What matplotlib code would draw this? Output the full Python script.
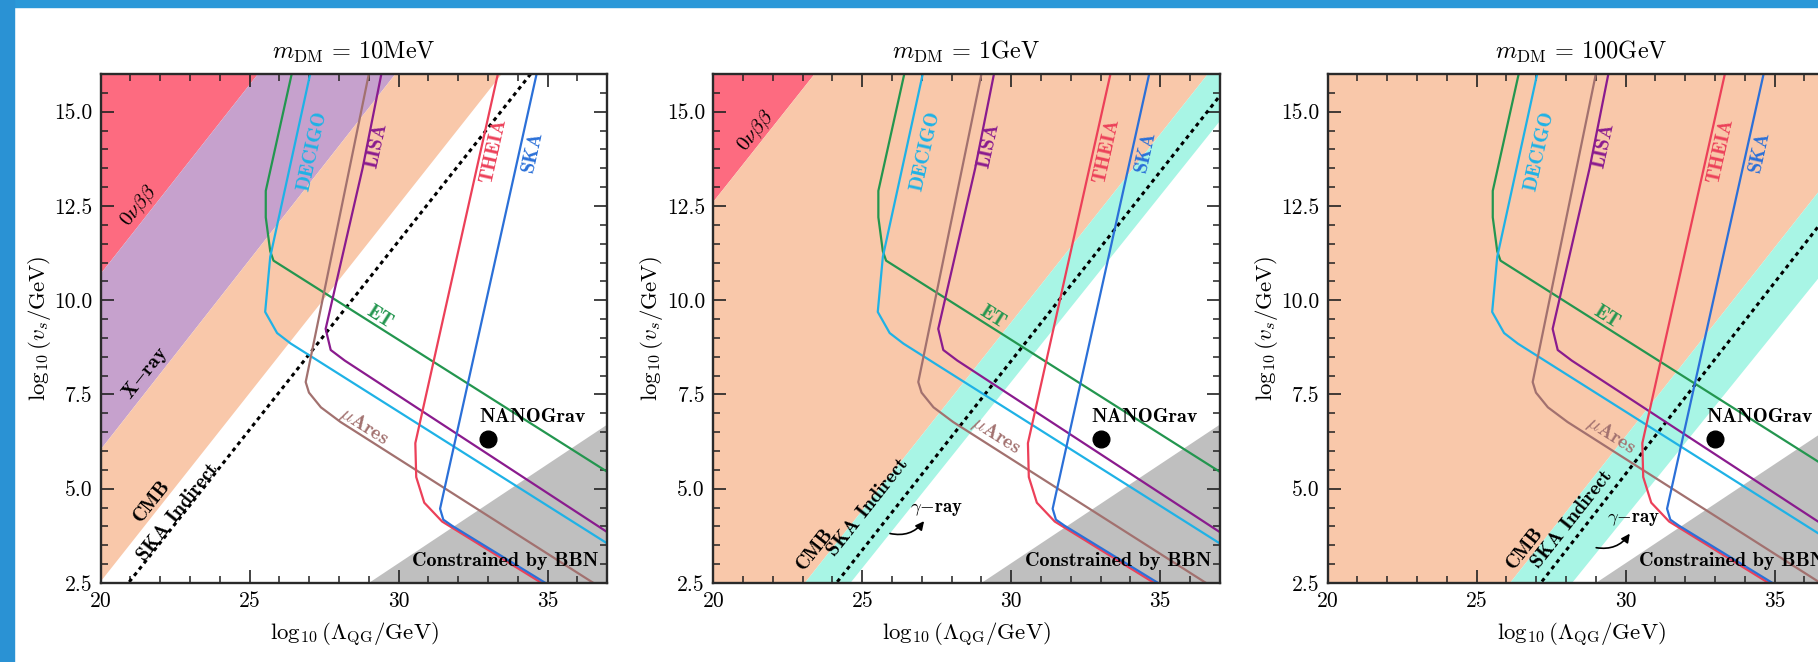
import numpy as np
import matplotlib
matplotlib.use("Agg")
import matplotlib.pyplot as plt
from matplotlib.patches import Rectangle, FancyArrowPatch
from matplotlib.ticker import MultipleLocator, FormatStrFormatter

plt.rcParams.update({
    "font.family": "serif",
    "font.serif": ["cmr10", "DejaVu Serif"],
    "mathtext.fontset": "cm",
    "axes.unicode_minus": False,
    "axes.formatter.use_mathtext": True,
})

# ---------------- data ----------------
panel_titles = [r"$m_{\rm DM}$ = 10MeV", r"$m_{\rm DM}$ = 1GeV", r"$m_{\rm DM}$ = 100GeV"]
x_range = [20, 37]
y_range = [2.5, 16]

# boundary lines of the shaded regions, as two (x, y) points each
nubb_edge = [[(20.0, 10.7), (25.28, 16.0)], [(20.0, 12.61), (23.4, 16.0)], None]
xray_lower = [[(20.0, 6.04), (29.89, 16.0)], None, None]
cmb_lower = [[(20.0, 2.54), (33.46, 16.0)], [(23.07, 2.5), (36.6, 16.0)], [(26.12, 2.5), (36.55, 12.95)]]
gamma_lower = [None, [(24.6, 2.5), (37.0, 14.75)], [(28.2, 2.5), (37.0, 11.1)]]
ska_indirect = [[(20.93, 2.5), (34.43, 16.0)], [(24.13, 2.5), (37.0, 15.42)], [(27.15, 2.5), (36.44, 11.93)]]
bbn_edge = [(29.0, 2.5), (37.0, 6.7)]

# detector sensitivity curves (same in all panels)
et_x = [26.41, 25.54, 25.54, 25.69, 25.8, 37.0]
et_y = [16.0, 12.9, 12.2, 11.3, 11.05, 5.45]
decigo_x = [27.03, 25.69, 25.52, 25.92, 26.38, 37.0]
decigo_y = [16.0, 11.15, 9.69, 9.13, 8.85, 3.55]
lisa_x = [29.42, 28.79, 27.55, 27.72, 28.19, 37.0]
lisa_y = [16.0, 13.5, 9.24, 8.68, 8.4, 3.85]
mures_x = [29.0, 26.88, 26.99, 27.39, 28.05, 36.54]
mures_y = [16.0, 7.83, 7.55, 7.16, 6.77, 2.5]
theia_x = [33.33, 30.56, 30.59, 30.86, 31.46, 34.8]
theia_y = [16.0, 6.21, 5.31, 4.63, 4.13, 2.5]
ska_x = [34.63, 31.39, 31.5, 31.79, 34.93]
ska_y = [16.0, 4.47, 4.18, 4.02, 2.5]

nanograv = (33.0, 6.33)

# label positions per panel
nubb_label = [(21.3, 12.5), (21.45, 14.5), None]
xray_label = [(21.49, 8.06), None, None]
cmb_label = [(21.71, 4.68), (23.4, 3.4), (26.62, 3.42)]
skaind_label = [(22.6, 4.38), (25.2, 4.5), (28.19, 4.18)]
gamma_label = [None, (27.5, 4.47), (30.25, 4.21)]
gamma_arrow = [None, [(25.84, 3.83), (27.13, 4.2)], [(28.92, 3.45), (30.19, 3.87)]]
mures_label = [(28.83, 6.65), (29.5, 6.42), (29.52, 6.42)]

# ---------------- styling ----------------
C_RED = "#fd6b80"
C_PURPLE = "#c6a1cd"
C_ORANGE = "#f9c8aa"
C_CYAN = "#a8f5e5"
C_GRAY = "#bfbfbf"
C_ET = "#23964f"
C_DECIGO = "#1fb2e6"
C_LISA = "#8a1b8e"
C_MUARES = "#a2716f"
C_THEIA = "#ec4059"
C_SKA = "#2b70d8"

W, H = 1818, 662
fig = plt.figure(figsize=(W / 100, H / 100), dpi=100)
fig.patch.set_facecolor("white")

lefts = [100.7, 713.3, 1327.7]
ax_w, ax_top, ax_bot = 506.5, 74.0, 583.0

XG = np.array([10.0, 45.0])


def line_fn(pts):
    (x1, y1), (x2, y2) = pts
    s = (y2 - y1) / (x2 - x1)
    return y1 + s * (XG - x1)


def slope_angle(ax, slope):
    p1 = ax.transData.transform((25, 5))
    p2 = ax.transData.transform((26, 5 + slope))
    return np.degrees(np.arctan2(p2[1] - p1[1], p2[0] - p1[0]))


BOLD = ["cmb10", "DejaVu Serif"]
FS = 14.5

for i in range(3):
    ax = fig.add_axes([lefts[i] / W, (H - ax_bot) / H, ax_w / W, (ax_bot - ax_top) / H])
    ax.set_xlim(*x_range)
    ax.set_ylim(*y_range)

    top = np.full(2, 30.0)
    if nubb_edge[i] is not None:
        ax.fill_between(XG, line_fn(nubb_edge[i]), top, color=C_RED, lw=0, zorder=1)
        upper = line_fn(nubb_edge[i])
    else:
        upper = top
    if xray_lower[i] is not None:
        ax.fill_between(XG, line_fn(xray_lower[i]), upper, color=C_PURPLE, lw=0, zorder=1)
        upper = line_fn(xray_lower[i])
    ax.fill_between(XG, line_fn(cmb_lower[i]), upper, color=C_ORANGE, lw=0, zorder=1)
    if gamma_lower[i] is not None:
        ax.fill_between(XG, line_fn(gamma_lower[i]), line_fn(cmb_lower[i]), color=C_CYAN, lw=0, zorder=1)
    ax.fill_between(XG, np.full(2, -10.0), line_fn(bbn_edge), color=C_GRAY, lw=0, zorder=1.5)

    ax.plot(XG, line_fn(ska_indirect[i]), color="black", ls=(0, (1.3, 1.3)), lw=2.2, zorder=2)

    for xs, ys, c in [(et_x, et_y, C_ET), (decigo_x, decigo_y, C_DECIGO), (lisa_x, lisa_y, C_LISA),
                      (mures_x, mures_y, C_MUARES), (theia_x, theia_y, C_THEIA), (ska_x, ska_y, C_SKA)]:
        ax.plot(xs, ys, color=c, lw=1.6, zorder=3, solid_joinstyle="round")

    fig.canvas.draw()
    a_diag = slope_angle(ax, 1.0)
    a_vert = slope_angle(ax, 3.55)
    a_down = slope_angle(ax, -0.5)

    kw = dict(ha="center", va="center", fontsize=FS, family=BOLD, zorder=4)
    ax.text(27.12, 13.96, "DECIGO", color=C_DECIGO, rotation=a_vert, **kw)
    ax.text(29.25, 14.12, "LISA", color=C_LISA, rotation=a_vert, **kw)
    ax.text(33.2, 13.96, "THEIA", color=C_THEIA, rotation=a_vert, **kw)
    ax.text(34.5, 13.96, "SKA", color=C_SKA, rotation=a_vert, **kw)
    ax.text(29.36, 9.55, "ET", color=C_ET, rotation=a_down, **kw)
    ax.text(*mures_label[i], r"$\mu$Ares", color=C_MUARES, rotation=a_down, **kw)

    if nubb_label[i] is not None:
        ax.text(*nubb_label[i], r"$0\nu\beta\beta$", rotation=a_diag, ha="center", va="center", fontsize=FS + 0.5, zorder=4)
    if xray_label[i] is not None:
        ax.text(*xray_label[i], r"X$-$ray", rotation=a_diag, **kw)
    ax.text(*cmb_label[i], "CMB", rotation=a_diag, **kw)
    ax.text(*skaind_label[i], "SKA Indirect", rotation=a_diag, **kw)
    if gamma_label[i] is not None:
        ax.text(*gamma_label[i], r"$\gamma$$-$ray", ha="center", va="center", fontsize=13.5, family=BOLD, zorder=4)
        (tx, ty), (hx, hy) = gamma_arrow[i]
        ax.add_patch(FancyArrowPatch((tx, ty), (hx, hy), connectionstyle="arc3,rad=0.35",
                                     arrowstyle="-|>,head_length=5,head_width=2.5", color="black", lw=1.2, zorder=4))

    ax.plot(*nanograv, "o", color="black", ms=12, zorder=5)
    ax.text(nanograv[0] - 0.3, nanograv[1] + 0.58, "NANOGrav", ha="left", va="center", fontsize=FS, family=BOLD, zorder=5)
    ax.text(36.72, 3.08, "Constrained by BBN", ha="right", va="center", fontsize=FS, family=BOLD, zorder=5)

    ax.xaxis.set_major_locator(MultipleLocator(5))
    ax.xaxis.set_minor_locator(MultipleLocator(1))
    ax.yaxis.set_major_locator(MultipleLocator(2.5))
    ax.yaxis.set_minor_locator(MultipleLocator(0.5))
    ax.yaxis.set_major_formatter(FormatStrFormatter("%.1f"))
    ax.xaxis.set_major_formatter(FormatStrFormatter("%d"))
    ax.tick_params(which="both", direction="in", top=True, right=True, color="#222222", labelsize=15.5)
    ax.tick_params(which="major", length=9.5, width=1.2, pad=6)
    ax.tick_params(which="minor", length=4.8, width=1.1)
    for sp in ax.spines.values():
        sp.set_linewidth(1.7)
        sp.set_color("#2a2a2a")
        sp.set_zorder(6)
    ax.set_xlabel(r"$\log_{10}(\Lambda_{\rm QG}/{\rm GeV})$", fontsize=16.5, labelpad=7)
    ax.set_ylabel(r"$\log_{10}(v_s/{\rm GeV})$", fontsize=16.5, labelpad=1)
    ax.set_title(panel_titles[i], fontsize=17.5, pad=11)

fig.patches.append(Rectangle((0, 1 - 7 / H), 1, 7 / H, transform=fig.transFigure, color="#2b98d8", zorder=10))
fig.patches.append(Rectangle((0, 0), 14 / W, 1, transform=fig.transFigure, color="#2a92d4", zorder=10))

fig.savefig("out.png", dpi=100)
